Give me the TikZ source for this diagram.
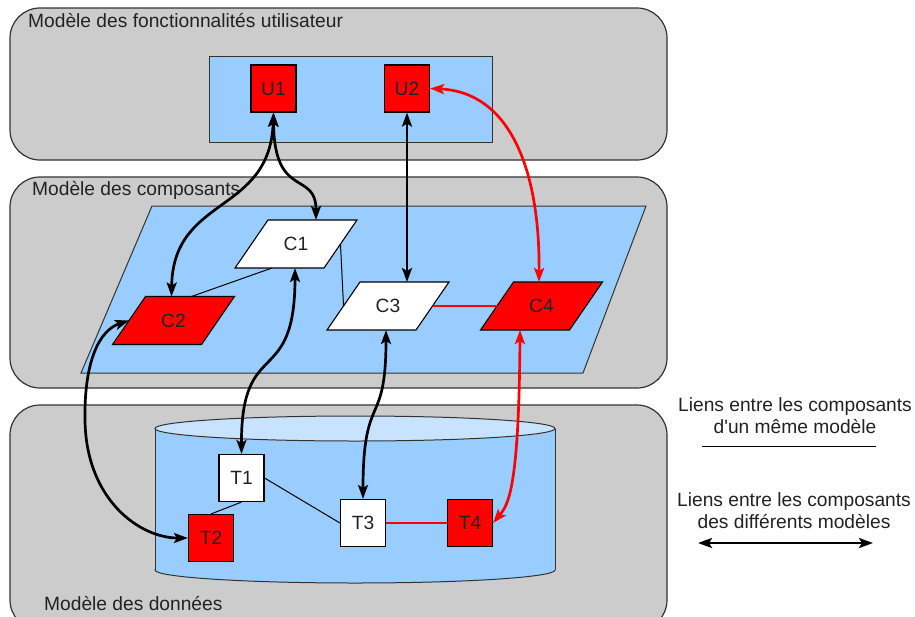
\documentclass[tikz,border=0pt]{standalone}
\usepackage{fontspec}
\setmainfont{Liberation Sans}
\usetikzlibrary{shapes.geometric,arrows.meta}
\definecolor{grayfill}{HTML}{CCCCCC}
\definecolor{bluefill}{HTML}{99CCFF}
\definecolor{bluetop}{HTML}{C7E3FF}
\definecolor{bordergray}{HTML}{333333}
\definecolor{textgray}{HTML}{222222}
\begin{document}
\begin{tikzpicture}[x=1pt,y=-1pt,
  font=\fontsize{19.2}{22}\selectfont,
  model/.style={fill=grayfill, draw=bordergray, line width=1.2pt, rounded corners=30pt},
  sq/.style={draw=black, line width=1.1pt, minimum width=45pt, minimum height=47pt, inner sep=0pt, text=textgray},
  redsq/.style={sq, fill=red},
  whitesq/.style={sq, fill=white},
  para/.style={trapezium, trapezium left angle=55.5, trapezium right angle=124.5,
     draw=black, line width=1.1pt, inner sep=0pt, outer sep=0pt,
     text width=56pt, align=center, text height=30.8pt, text depth=17.2pt, text=textgray},
  redpara/.style={para, fill=red},
  whitepara/.style={para, fill=white},
  tip/.tip={Stealth[length=14pt,width=10pt,inset=3pt]},
  link/.style={line width=2.7pt, tip-tip},
  redlink/.style={link, draw=red},
  thinlink/.style={line width=1pt},
  thinred/.style={line width=1.3pt, draw=red},
  title/.style={anchor=west, text=textgray, inner sep=0pt},
]
\useasboundingbox (0,0) rectangle (915,616);

% model boxes
\draw[model] (10,8) rectangle (667,160);
\draw[model] (10,177) rectangle (667,388);
\draw[model] (10,405) rectangle (667,630);

\node[title] (t1) at (28,21) {Modèle des fonctionnalités utilisateur};
\node[title] (t2) at (32,190) {Modèle des composants};
\node[title] (t3) at (44,604) {Modèle des données};

% containers
\draw[fill=bluefill, draw=bordergray, line width=1pt] (209,56) rectangle (492,142);
\draw[fill=bluefill, draw=bordergray, line width=1pt] (152,206) -- (646,206) -- (583,373) -- (81,373) -- cycle;
% cylinder
\draw[fill=bluefill, draw=bordergray, line width=1pt] (355,570) ellipse [x radius=200, y radius=13];
\fill[bluefill] (155,428.5) rectangle (555,570);
\draw[line width=1pt, bordergray] (155,428.5) -- (155,570) (555,428.5) -- (555,570);
\draw[fill=bluetop, draw=bordergray, line width=1pt] (355,428.5) ellipse [x radius=200, y radius=12.5];

% nodes
\node[redsq] (U1) at (273.5,88.5) {U1};
\node[redsq] (U2) at (407,88.5) {U2};
\node[whitepara] (C1) at (296,244) {C1};
\node[redpara] (C2) at (173.5,320.5) {C2};
\node[whitepara] (C3) at (388,306) {C3};
\node[redpara] (C4) at (541.5,306) {C4};
\node[whitesq] (T1) at (241.5,478) {T1};
\node[redsq] (T2) at (211,538) {T2};
\node[whitesq] (T3) at (363,523) {T3};
\node[redsq] (T4) at (470,523) {T4};

% thin links
\draw[thinlink] ([xshift=1.5pt]C2.top side) -- ([xshift=-7.5pt]C1.bottom side);
\draw[thinlink] (C1.east) -- (C3.west);
\draw[thinred] (C3.east) -- (C4.west);
\draw[thinlink] (T1.south) -- (T2.north);
\draw[thinlink] (T1.east) -- (T3.west);
\draw[thinred] (T3.east) -- (T4.west);

% links between models
\draw[link] (U1.south) .. controls (270,215) and (173,195) .. ([xshift=-18.5pt]C2.top side);
\draw[link] (U1.south) .. controls (274,200) and (316,170) .. ([xshift=3.5pt]C1.top side);
\draw[link] (U2.south) -- (U2.south |- C3.top side);
\draw[redlink] (U2.east) .. controls (510,92) and (540,170) .. ([xshift=-19pt]C4.top side);
\draw[link] ([xshift=15.5pt]C1.bottom side) .. controls (295,390) and (241,335) .. (T1.north);
\draw[link] ([xshift=14.5pt]C3.bottom side) .. controls (386,430) and (363,390) .. (T3.north);
\draw[redlink] ([xshift=-5pt]C4.bottom side) .. controls (519,490) and (508,505) .. (T4.east);
\draw[link] (C2.west) .. controls (100,330) and (84,360) .. (85,420)
   .. controls (86,500) and (140,538) .. (T2.west);

% legend
\node[align=center, text=textgray, inner sep=0pt] (L1) at (795,416) {Liens entre les composants\\d\textquotesingle un même modèle};
\coordinate (l1a) at (702,446);
\coordinate (l1b) at (876,446);
\draw[thinlink] (l1a) -- (l1b);
\node[align=center, text=textgray, inner sep=0pt] (L2) at (794,511) {Liens entre les composants\\des différents modèles};
\coordinate (l2a) at (698,543);
\coordinate (l2b) at (873,543);
\draw[link] (l2a) -- (l2b);
\end{tikzpicture}
\end{document}
